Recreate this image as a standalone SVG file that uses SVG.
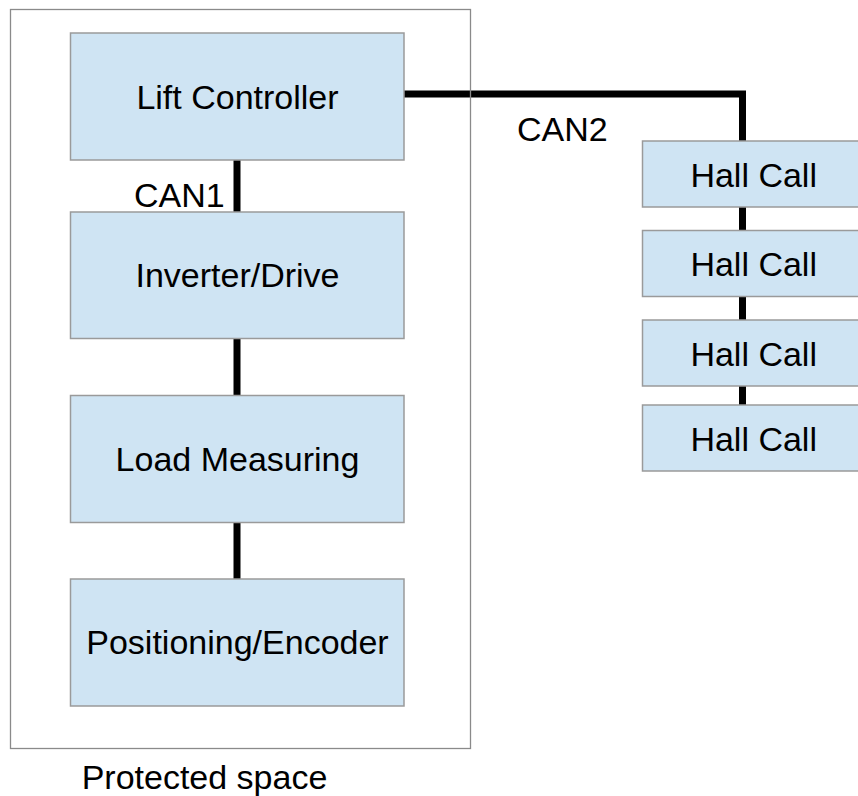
<svg xmlns="http://www.w3.org/2000/svg" width="858" height="796" viewBox="0 0 858 796">
<style>
.box{fill:#cfe4f3;stroke:#9a9a9a;stroke-width:1.5}
.lbl{font-family:"Liberation Sans",Arial,sans-serif;font-size:34px;fill:#000}
.mid{text-anchor:middle}
.wire{stroke:#000;stroke-width:7;fill:none}
.frame{fill:none;stroke:#8a8a8a;stroke-width:1.3}
</style>
<rect width="858" height="796" fill="#fff"/>
<g id="connectors">
<line class="wire" x1="237" y1="160" x2="237" y2="212"/>
<line class="wire" x1="237" y1="338" x2="237" y2="395"/>
<line class="wire" x1="237" y1="522" x2="237" y2="579"/>
<polyline class="wire" points="404,94 742.5,94 742.5,141"/>
<line class="wire" x1="742.5" y1="207" x2="742.5" y2="230"/>
<line class="wire" x1="742.5" y1="296" x2="742.5" y2="320"/>
<line class="wire" x1="742.5" y1="386" x2="742.5" y2="405"/>
<text class="lbl" x="134" y="207">CAN1</text>
<text class="lbl" x="517" y="141">CAN2</text>
</g>
<g id="protected-space">
<rect class="frame" x="10.5" y="9.5" width="460" height="739"/>
<text class="lbl mid" x="204.5" y="789">Protected space</text>
</g>
<g id="lift-controller">
<rect class="box" x="70.5" y="33" width="333.5" height="127"/>
<text class="lbl mid" x="237.5" y="109">Lift Controller</text>
</g>
<g id="inverter-drive">
<rect class="box" x="70.5" y="212" width="333.5" height="126.5"/>
<text class="lbl mid" x="237.5" y="287">Inverter/Drive</text>
</g>
<g id="load-measuring">
<rect class="box" x="70.5" y="395.5" width="333.5" height="127"/>
<text class="lbl mid" x="237.5" y="471">Load Measuring</text>
</g>
<g id="positioning-encoder">
<rect class="box" x="70.5" y="579" width="333.5" height="127"/>
<text class="lbl mid" x="237.5" y="654">Positioning/Encoder</text>
</g>
<g id="hall-call-1">
<rect class="box" x="642.5" y="141" width="223" height="66"/>
<text class="lbl mid" x="753.7" y="186.5">Hall Call</text>
</g>
<g id="hall-call-2">
<rect class="box" x="642.5" y="230.5" width="223" height="66"/>
<text class="lbl mid" x="753.7" y="276">Hall Call</text>
</g>
<g id="hall-call-3">
<rect class="box" x="642.5" y="320" width="223" height="66"/>
<text class="lbl mid" x="753.7" y="365.5">Hall Call</text>
</g>
<g id="hall-call-4">
<rect class="box" x="642.5" y="405" width="223" height="66"/>
<text class="lbl mid" x="753.7" y="450.5">Hall Call</text>
</g>
</svg>
